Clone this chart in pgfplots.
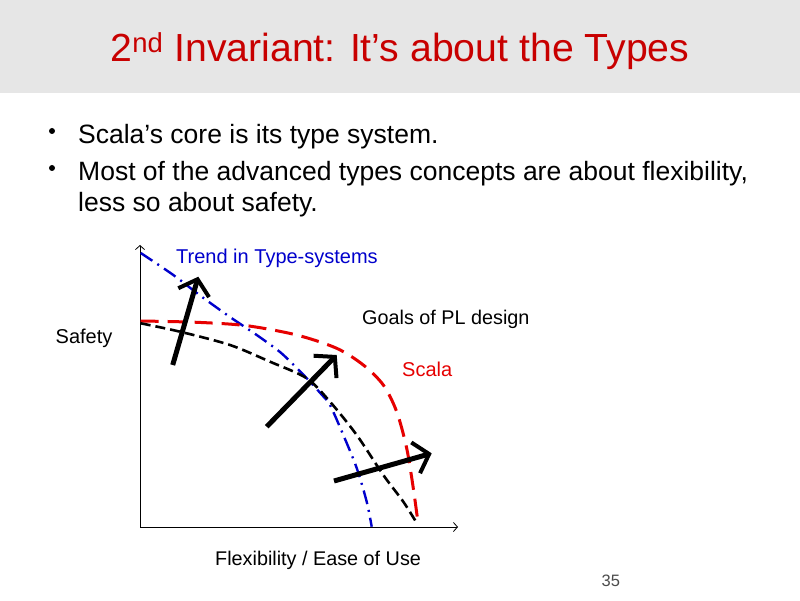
\documentclass[border=0pt]{standalone}
\usepackage{fontspec}
\setmainfont{Liberation Sans}
\usepackage{pgfplots}
\pgfplotsset{compat=1.18}
\usetikzlibrary{arrows.meta}
\definecolor{bandgray}{RGB}{230,230,230}
\definecolor{titlered}{RGB}{200,0,0}
\definecolor{scalared}{RGB}{230,0,0}
\definecolor{trendblue}{RGB}{0,0,204}
\begin{document}
\begin{tikzpicture}[x=1pt,y=1pt]
\fill[white] (0,0) rectangle (800,600);
\fill[bandgray] (0,507) rectangle (800,600);
\node[anchor=base,inner sep=0,text=titlered] at (400,538.5)
  {\fontsize{39.2}{46}\selectfont 2\textsuperscript{nd} Invariant: It’s about the Types};
% bullets
\fill (52,469) circle (3);
\fill (52,432) circle (3);
\node[anchor=base west,inner sep=0] at (78,456)
  {\fontsize{26.5}{30}\selectfont Scala’s core is its type system.};
\node[anchor=base west,inner sep=0] at (78,419)
  {\fontsize{26.5}{30}\selectfont Most of the advanced types concepts are about flexibility,};
\node[anchor=base west,inner sep=0] at (78,388)
  {\fontsize{26.5}{30}\selectfont less so about safety.};
% chart
\begin{axis}[
  at={(140,73)}, anchor=south west,
  scale only axis, width=318pt, height=282pt,
  xmin=140, xmax=458, ymin=73, ymax=355,
  axis lines=left, ticks=none, clip=false,
  axis line style={line width=0.8pt,-{Straight Barb[length=4pt,width=9pt,line width=0.8pt]}},
]
% Trend in Type-systems (blue dash-dot)
\addplot[trendblue, line width=2.4pt, smooth,
  dash pattern=on 14pt off 6pt on 2pt off 6pt]
  coordinates {(140.7,347) (173.3,325) (201.7,303.3) (230,283) (256.7,265) (280,248) (296.7,232) (310,218.3) (322,205) (330,195) (343.3,165) (356.7,132) (366.7,98.3) (371.7,73.3)};
% Scala (red dashed)
\addplot[scalared, line width=3pt, smooth,
  dash pattern=on 18pt off 9pt]
  coordinates {(140.7,279) (196.7,277.7) (246.7,274.3) (296.7,265) (336.7,251.7) (363.3,235) (383.3,215) (396.7,188.3) (406.7,151.7) (413.3,111.7) (418.3,75)};
% Goals of PL design (black dashed)
\addplot[black, line width=2.6pt, smooth,
  dash pattern=on 10pt off 5pt]
  coordinates {(140.7,276.7) (180,268.3) (230,255) (270,238.3) (306.7,221.7) (330,198.3) (356.7,165) (383.3,125) (403.3,98.3) (416.7,77)};
% thick arrows
\addplot[black, line width=5pt, -{Straight Barb[length=14pt,width=32pt,line width=4pt]}]
  coordinates {(172.7,235) (198.3,323.3)};
\addplot[black, line width=5pt, -{Straight Barb[length=14pt,width=32pt,line width=4pt]}]
  coordinates {(266.7,173.3) (336.7,245)};
\addplot[black, line width=5pt, -{Straight Barb[length=14pt,width=32pt,line width=4pt]}]
  coordinates {(334,119) (431.7,146.7)};
\end{axis}
% chart labels
\node[anchor=base west,inner sep=0,text=trendblue] at (176,336)
  {\fontsize{20}{24}\selectfont Trend in Type-systems};
\node[anchor=base west,inner sep=0] at (362,275.7)
  {\fontsize{19.8}{24}\selectfont Goals of PL design};
\node[anchor=base west,inner sep=0,text=scalared] at (402,223.3)
  {\fontsize{20}{24}\selectfont Scala};
\node[anchor=base west,inner sep=0] at (55.5,256)
  {\fontsize{20}{24}\selectfont Safety};
\node[anchor=base west,inner sep=0] at (215,35)
  {\fontsize{19.8}{24}\selectfont Flexibility / Ease of Use};
\node[anchor=base west,inner sep=0,text=black!70] at (601.5,14)
  {\fontsize{16.5}{20}\selectfont 35};
\end{tikzpicture}
\end{document}
